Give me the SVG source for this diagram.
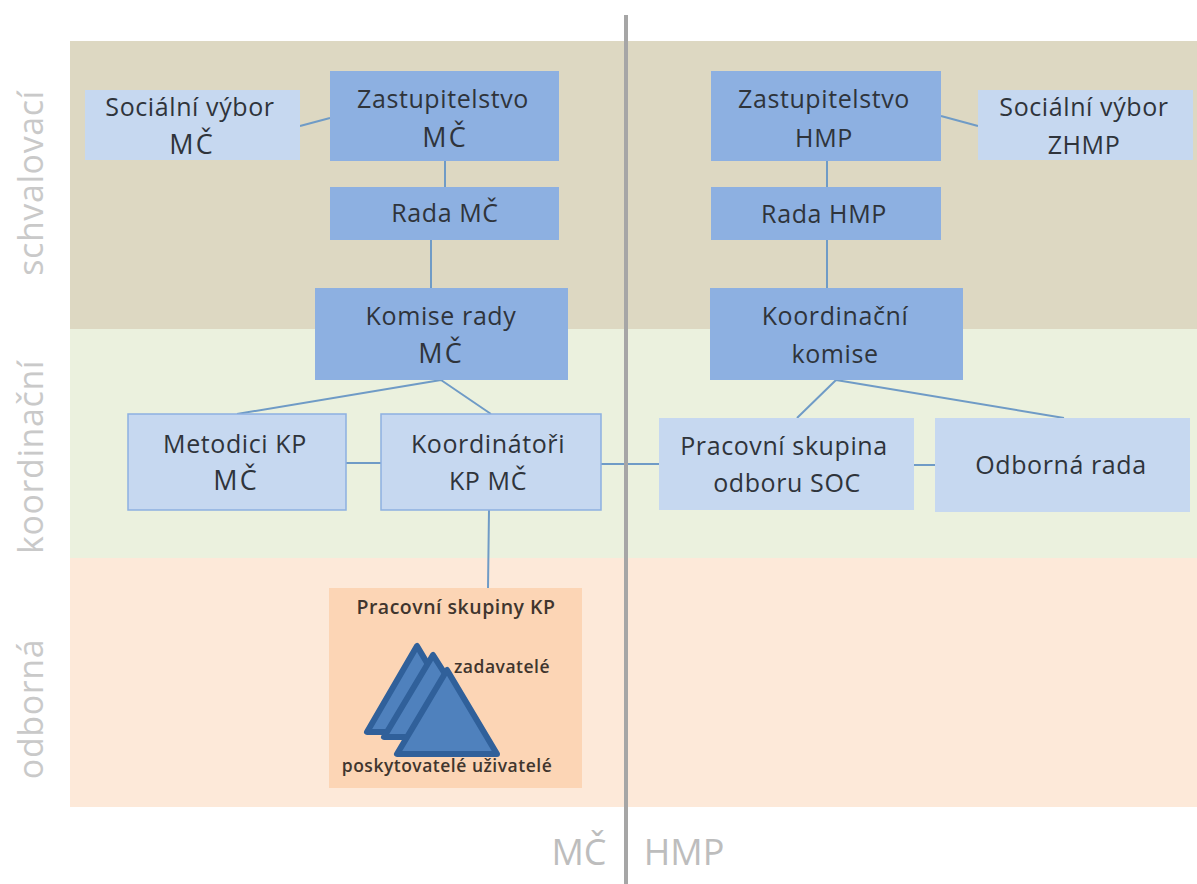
<svg xmlns="http://www.w3.org/2000/svg" width="1197" height="884" viewBox="0 0 1197 884">
<style>
text{font-family:"Open Sans","Noto Sans","Liberation Sans",sans-serif;text-anchor:middle;fill:#2f343b}
.n{font-size:25px;letter-spacing:.6px}
.m{font-size:27px;letter-spacing:2px}
.d{fill:#8db0e1}
.l{fill:#c6d8f0}
.side{font-size:34px;fill:#c9c9c9;letter-spacing:.6px}
.foot{font-size:36px;fill:#bdbdbd}
.small{font-size:17.500px;font-weight:600;fill:#40352e;letter-spacing:.5px}
.c{stroke:#6f9bc6;stroke-width:2;fill:none}
.t{fill:#4f81bd;stroke:#30609a;stroke-width:6;stroke-linejoin:round}
</style>
<rect width="1197" height="884" fill="#fff"/>
<g id="bands">
<rect x="70" y="41" width="1127" height="288" fill="#ddd8c2"/>
<rect x="70" y="329" width="1127" height="229" fill="#ebf1de"/>
<rect x="70" y="558" width="1127" height="249" fill="#fde9d9"/>
</g>
<g id="connectors">
<path class="c" d="M300 126L330 118M445 160V187M431 240V288M978 126L941 116M827 160V187M827 240V288M441 380L237 414M441 380L491 414M346 463H381M596 464H659M914 465H935M489 510L488 588M836 380L797 418M836 380L1064 418"/>
</g>
<g id="social-mc"><rect class="l" x="85" y="90" width="215" height="70"/><text class="n" x="190" y="116">Sociální výbor</text><text class="m" x="192" y="154">MČ</text></g>
<g id="zast-mc"><rect class="d" x="330" y="71" width="229" height="90"/><text class="n" x="443" y="108">Zastupitelstvo</text><text class="m" x="445" y="147">MČ</text></g>
<g id="rada-mc"><rect class="d" x="330" y="187" width="229" height="53"/><text class="n" x="445" y="222">Rada MČ</text></g>
<g id="komise-mc"><rect class="d" x="315" y="288" width="253" height="92"/><text class="n" x="441" y="325">Komise rady</text><text class="m" x="441" y="363">MČ</text></g>
<g id="zast-hmp"><rect class="d" x="711" y="71" width="230" height="90"/><text class="n" x="824" y="108">Zastupitelstvo</text><text class="n" x="824" y="147">HMP</text></g>
<g id="social-zhmp"><rect class="l" x="978" y="90" width="215" height="70"/><text class="n" x="1084" y="116">Sociální výbor</text><text class="n" x="1084" y="154">ZHMP</text></g>
<g id="rada-hmp"><rect class="d" x="711" y="187" width="230" height="53"/><text class="n" x="824" y="223">Rada HMP</text></g>
<g id="koord-komise"><rect class="d" x="710" y="288" width="253" height="92"/><text class="n" x="835" y="325">Koordinační</text><text class="n" x="835" y="363">komise</text></g>
<g id="metodici"><rect class="l" x="128" y="414" width="218" height="96" stroke="#8db0e1" stroke-width="1.500"/><text class="n" x="235" y="453">Metodici KP</text><text class="m" x="236" y="490">MČ</text></g>
<g id="koordinatori"><rect class="l" x="381" y="414" width="220" height="96" stroke="#8db0e1" stroke-width="1.500"/><text class="n" x="488" y="453">Koordinátoři</text><text class="n" x="488" y="490">KP MČ</text></g>
<g id="pracovni-soc"><rect class="l" x="659" y="418" width="255" height="92"/><text class="n" x="784" y="455">Pracovní skupina</text><text class="n" x="787" y="492">odboru SOC</text></g>
<g id="odborna-rada"><rect class="l" x="935" y="418" width="255" height="94"/><text class="n" x="1061" y="474">Odborná rada</text></g>
<g id="pracovni-kp">
<rect x="329" y="588" width="253" height="200" fill="#fcd5b5"/>
<text class="small" x="456" y="614" style="font-size:19.500px">Pracovní skupiny KP</text>
<path class="t" d="M417 646L367 732H468Z"/><path class="t" d="M433 655L384 737H485Z"/><path class="t" d="M447 670L397 754H497Z"/>
<text class="small" x="502" y="673">zadavatelé</text>
<text class="small" x="447" y="772">poskytovatelé uživatelé</text>
</g>
<g id="side-labels">
<text class="side" transform="translate(43 183) rotate(-90)">schvalovací</text>
<text class="side" transform="translate(43 457) rotate(-90)">koordinační</text>
<text class="side" transform="translate(43 709) rotate(-90)">odborná</text>
</g>
<line x1="626" y1="15" x2="626" y2="884" stroke="#a6a6a6" stroke-width="4"/>
<text class="foot" x="579" y="865">MČ</text>
<text class="foot" x="684" y="865">HMP</text>
</svg>
